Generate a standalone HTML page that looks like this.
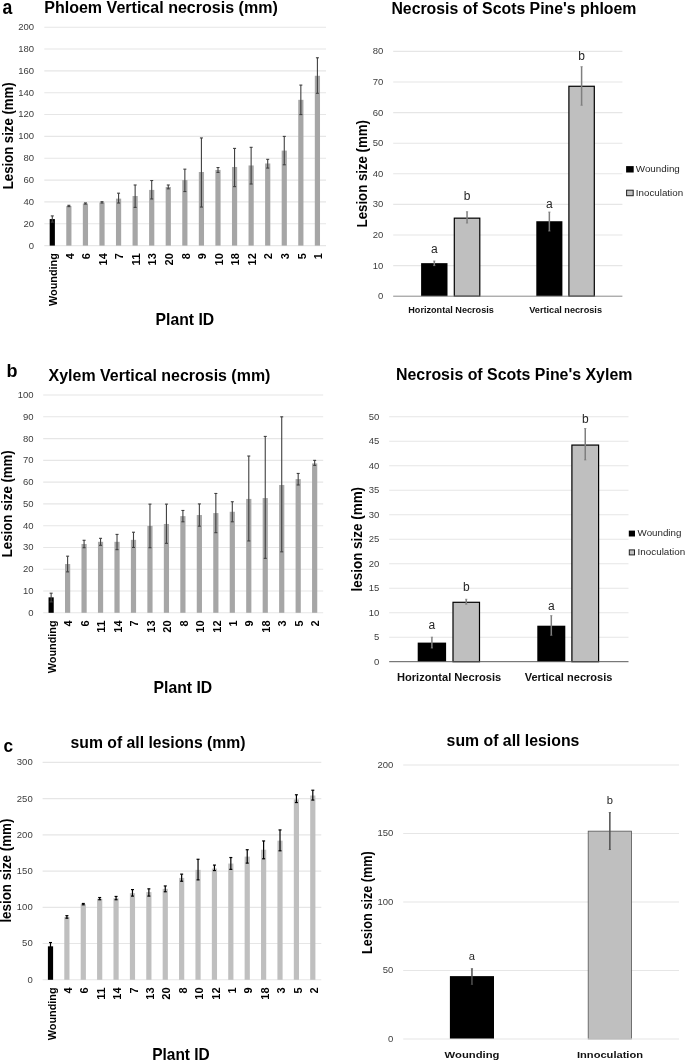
<!DOCTYPE html>
<html lang="en">
<head>
<meta charset="utf-8">
<title>Necrosis charts</title>
<style>html,body{margin:0;padding:0;background:#fff;}svg{display:block;}text{font-family:"Liberation Sans",sans-serif;}</style>
</head>
<body>
<svg width="685" height="1061" viewBox="0 0 685 1061" font-family='"Liberation Sans", sans-serif'>
<rect width="685" height="1061" fill="#fff"/>
<g>
<line x1="44.30" x2="326.00" y1="245.60" y2="245.60" stroke="#e6e6e6" stroke-width="1.1"/>
<text x="34.00" y="248.50" font-size="9.5" text-anchor="end" fill="#3c3c3c">0</text>
<line x1="44.30" x2="326.00" y1="223.76" y2="223.76" stroke="#e6e6e6" stroke-width="1.1"/>
<text x="34.00" y="226.66" font-size="9.5" text-anchor="end" fill="#3c3c3c">20</text>
<line x1="44.30" x2="326.00" y1="201.92" y2="201.92" stroke="#e6e6e6" stroke-width="1.1"/>
<text x="34.00" y="204.82" font-size="9.5" text-anchor="end" fill="#3c3c3c">40</text>
<line x1="44.30" x2="326.00" y1="180.08" y2="180.08" stroke="#e6e6e6" stroke-width="1.1"/>
<text x="34.00" y="182.98" font-size="9.5" text-anchor="end" fill="#3c3c3c">60</text>
<line x1="44.30" x2="326.00" y1="158.24" y2="158.24" stroke="#e6e6e6" stroke-width="1.1"/>
<text x="34.00" y="161.14" font-size="9.5" text-anchor="end" fill="#3c3c3c">80</text>
<line x1="44.30" x2="326.00" y1="136.40" y2="136.40" stroke="#e6e6e6" stroke-width="1.1"/>
<text x="34.00" y="139.30" font-size="9.5" text-anchor="end" fill="#3c3c3c">100</text>
<line x1="44.30" x2="326.00" y1="114.56" y2="114.56" stroke="#e6e6e6" stroke-width="1.1"/>
<text x="34.00" y="117.46" font-size="9.5" text-anchor="end" fill="#3c3c3c">120</text>
<line x1="44.30" x2="326.00" y1="92.72" y2="92.72" stroke="#e6e6e6" stroke-width="1.1"/>
<text x="34.00" y="95.62" font-size="9.5" text-anchor="end" fill="#3c3c3c">140</text>
<line x1="44.30" x2="326.00" y1="70.88" y2="70.88" stroke="#e6e6e6" stroke-width="1.1"/>
<text x="34.00" y="73.78" font-size="9.5" text-anchor="end" fill="#3c3c3c">160</text>
<line x1="44.30" x2="326.00" y1="49.04" y2="49.04" stroke="#e6e6e6" stroke-width="1.1"/>
<text x="34.00" y="51.94" font-size="9.5" text-anchor="end" fill="#3c3c3c">180</text>
<line x1="44.30" x2="326.00" y1="27.20" y2="27.20" stroke="#e6e6e6" stroke-width="1.1"/>
<text x="34.00" y="30.10" font-size="9.5" text-anchor="end" fill="#3c3c3c">200</text>
<rect x="49.69" y="219.06" width="5.20" height="26.54" fill="#000"/>
<line x1="52.29" x2="52.29" y1="215.90" y2="222.12" stroke="#404040" stroke-width="1.1"/>
<line x1="50.79" x2="53.79" y1="215.90" y2="215.90" stroke="#404040" stroke-width="1.1"/>
<line x1="50.79" x2="53.79" y1="222.12" y2="222.12" stroke="#404040" stroke-width="1.1"/>
<text x="56.99" y="253.20" font-size="11.3" font-weight="bold" text-anchor="end" textLength="52.80" lengthAdjust="spacingAndGlyphs" transform="rotate(-90 56.99 253.20)">Wounding</text>
<rect x="66.26" y="206.07" width="5.20" height="39.53" fill="#a6a6a6"/>
<line x1="68.86" x2="68.86" y1="205.31" y2="206.62" stroke="#404040" stroke-width="1.1"/>
<line x1="67.36" x2="70.36" y1="205.31" y2="205.31" stroke="#404040" stroke-width="1.1"/>
<line x1="67.36" x2="70.36" y1="206.62" y2="206.62" stroke="#404040" stroke-width="1.1"/>
<text x="73.56" y="253.20" font-size="11.3" font-weight="bold" text-anchor="end" textLength="6.10" lengthAdjust="spacingAndGlyphs" transform="rotate(-90 73.56 253.20)">4</text>
<rect x="82.83" y="203.56" width="5.20" height="42.04" fill="#a6a6a6"/>
<line x1="85.43" x2="85.43" y1="202.90" y2="204.10" stroke="#404040" stroke-width="1.1"/>
<line x1="83.93" x2="86.93" y1="202.90" y2="202.90" stroke="#404040" stroke-width="1.1"/>
<line x1="83.93" x2="86.93" y1="204.10" y2="204.10" stroke="#404040" stroke-width="1.1"/>
<text x="90.13" y="253.20" font-size="11.3" font-weight="bold" text-anchor="end" textLength="6.10" lengthAdjust="spacingAndGlyphs" transform="rotate(-90 90.13 253.20)">6</text>
<rect x="99.40" y="202.47" width="5.20" height="43.13" fill="#a6a6a6"/>
<line x1="102.00" x2="102.00" y1="201.70" y2="203.01" stroke="#404040" stroke-width="1.1"/>
<line x1="100.50" x2="103.50" y1="201.70" y2="201.70" stroke="#404040" stroke-width="1.1"/>
<line x1="100.50" x2="103.50" y1="203.01" y2="203.01" stroke="#404040" stroke-width="1.1"/>
<text x="106.70" y="253.20" font-size="11.3" font-weight="bold" text-anchor="end" textLength="12.30" lengthAdjust="spacingAndGlyphs" transform="rotate(-90 106.70 253.20)">14</text>
<rect x="115.97" y="198.64" width="5.20" height="46.96" fill="#a6a6a6"/>
<line x1="118.57" x2="118.57" y1="193.18" y2="203.01" stroke="#404040" stroke-width="1.1"/>
<line x1="117.07" x2="120.07" y1="193.18" y2="193.18" stroke="#404040" stroke-width="1.1"/>
<line x1="117.07" x2="120.07" y1="203.01" y2="203.01" stroke="#404040" stroke-width="1.1"/>
<text x="123.27" y="253.20" font-size="11.3" font-weight="bold" text-anchor="end" textLength="6.10" lengthAdjust="spacingAndGlyphs" transform="rotate(-90 123.27 253.20)">7</text>
<rect x="132.54" y="196.02" width="5.20" height="49.58" fill="#a6a6a6"/>
<line x1="135.14" x2="135.14" y1="184.99" y2="207.38" stroke="#404040" stroke-width="1.1"/>
<line x1="133.64" x2="136.64" y1="184.99" y2="184.99" stroke="#404040" stroke-width="1.1"/>
<line x1="133.64" x2="136.64" y1="207.38" y2="207.38" stroke="#404040" stroke-width="1.1"/>
<text x="139.84" y="253.20" font-size="11.3" font-weight="bold" text-anchor="end" textLength="12.30" lengthAdjust="spacingAndGlyphs" transform="rotate(-90 139.84 253.20)">11</text>
<rect x="149.11" y="189.91" width="5.20" height="55.69" fill="#a6a6a6"/>
<line x1="151.71" x2="151.71" y1="180.52" y2="198.97" stroke="#404040" stroke-width="1.1"/>
<line x1="150.21" x2="153.21" y1="180.52" y2="180.52" stroke="#404040" stroke-width="1.1"/>
<line x1="150.21" x2="153.21" y1="198.97" y2="198.97" stroke="#404040" stroke-width="1.1"/>
<text x="156.41" y="253.20" font-size="11.3" font-weight="bold" text-anchor="end" textLength="12.30" lengthAdjust="spacingAndGlyphs" transform="rotate(-90 156.41 253.20)">13</text>
<rect x="165.68" y="186.96" width="5.20" height="58.64" fill="#a6a6a6"/>
<line x1="168.28" x2="168.28" y1="184.99" y2="188.82" stroke="#404040" stroke-width="1.1"/>
<line x1="166.78" x2="169.78" y1="184.99" y2="184.99" stroke="#404040" stroke-width="1.1"/>
<line x1="166.78" x2="169.78" y1="188.82" y2="188.82" stroke="#404040" stroke-width="1.1"/>
<text x="172.98" y="253.20" font-size="11.3" font-weight="bold" text-anchor="end" textLength="12.30" lengthAdjust="spacingAndGlyphs" transform="rotate(-90 172.98 253.20)">20</text>
<rect x="182.25" y="180.08" width="5.20" height="65.52" fill="#a6a6a6"/>
<line x1="184.85" x2="184.85" y1="169.16" y2="191.55" stroke="#404040" stroke-width="1.1"/>
<line x1="183.35" x2="186.35" y1="169.16" y2="169.16" stroke="#404040" stroke-width="1.1"/>
<line x1="183.35" x2="186.35" y1="191.55" y2="191.55" stroke="#404040" stroke-width="1.1"/>
<text x="189.55" y="253.20" font-size="11.3" font-weight="bold" text-anchor="end" textLength="6.10" lengthAdjust="spacingAndGlyphs" transform="rotate(-90 189.55 253.20)">8</text>
<rect x="198.82" y="172.00" width="5.20" height="73.60" fill="#a6a6a6"/>
<line x1="201.42" x2="201.42" y1="137.93" y2="207.05" stroke="#404040" stroke-width="1.1"/>
<line x1="199.92" x2="202.92" y1="137.93" y2="137.93" stroke="#404040" stroke-width="1.1"/>
<line x1="199.92" x2="202.92" y1="207.05" y2="207.05" stroke="#404040" stroke-width="1.1"/>
<text x="206.12" y="253.20" font-size="11.3" font-weight="bold" text-anchor="end" textLength="6.10" lengthAdjust="spacingAndGlyphs" transform="rotate(-90 206.12 253.20)">9</text>
<rect x="215.39" y="169.92" width="5.20" height="75.68" fill="#a6a6a6"/>
<line x1="217.99" x2="217.99" y1="167.52" y2="172.44" stroke="#404040" stroke-width="1.1"/>
<line x1="216.49" x2="219.49" y1="167.52" y2="167.52" stroke="#404040" stroke-width="1.1"/>
<line x1="216.49" x2="219.49" y1="172.44" y2="172.44" stroke="#404040" stroke-width="1.1"/>
<text x="222.69" y="253.20" font-size="11.3" font-weight="bold" text-anchor="end" textLength="12.30" lengthAdjust="spacingAndGlyphs" transform="rotate(-90 222.69 253.20)">10</text>
<rect x="231.96" y="166.98" width="5.20" height="78.62" fill="#a6a6a6"/>
<line x1="234.56" x2="234.56" y1="148.41" y2="186.63" stroke="#404040" stroke-width="1.1"/>
<line x1="233.06" x2="236.06" y1="148.41" y2="148.41" stroke="#404040" stroke-width="1.1"/>
<line x1="233.06" x2="236.06" y1="186.63" y2="186.63" stroke="#404040" stroke-width="1.1"/>
<text x="239.26" y="253.20" font-size="11.3" font-weight="bold" text-anchor="end" textLength="12.30" lengthAdjust="spacingAndGlyphs" transform="rotate(-90 239.26 253.20)">18</text>
<rect x="248.53" y="165.45" width="5.20" height="80.15" fill="#a6a6a6"/>
<line x1="251.13" x2="251.13" y1="147.32" y2="184.01" stroke="#404040" stroke-width="1.1"/>
<line x1="249.63" x2="252.63" y1="147.32" y2="147.32" stroke="#404040" stroke-width="1.1"/>
<line x1="249.63" x2="252.63" y1="184.01" y2="184.01" stroke="#404040" stroke-width="1.1"/>
<text x="255.83" y="253.20" font-size="11.3" font-weight="bold" text-anchor="end" textLength="12.30" lengthAdjust="spacingAndGlyphs" transform="rotate(-90 255.83 253.20)">12</text>
<rect x="265.10" y="163.48" width="5.20" height="82.12" fill="#a6a6a6"/>
<line x1="267.70" x2="267.70" y1="159.33" y2="168.07" stroke="#404040" stroke-width="1.1"/>
<line x1="266.20" x2="269.20" y1="159.33" y2="159.33" stroke="#404040" stroke-width="1.1"/>
<line x1="266.20" x2="269.20" y1="168.07" y2="168.07" stroke="#404040" stroke-width="1.1"/>
<text x="272.40" y="253.20" font-size="11.3" font-weight="bold" text-anchor="end" textLength="6.10" lengthAdjust="spacingAndGlyphs" transform="rotate(-90 272.40 253.20)">2</text>
<rect x="281.67" y="150.60" width="5.20" height="95.00" fill="#a6a6a6"/>
<line x1="284.27" x2="284.27" y1="136.40" y2="164.79" stroke="#404040" stroke-width="1.1"/>
<line x1="282.77" x2="285.77" y1="136.40" y2="136.40" stroke="#404040" stroke-width="1.1"/>
<line x1="282.77" x2="285.77" y1="164.79" y2="164.79" stroke="#404040" stroke-width="1.1"/>
<text x="288.97" y="253.20" font-size="11.3" font-weight="bold" text-anchor="end" textLength="6.10" lengthAdjust="spacingAndGlyphs" transform="rotate(-90 288.97 253.20)">3</text>
<rect x="298.24" y="99.82" width="5.20" height="145.78" fill="#a6a6a6"/>
<line x1="300.84" x2="300.84" y1="85.08" y2="114.56" stroke="#404040" stroke-width="1.1"/>
<line x1="299.34" x2="302.34" y1="85.08" y2="85.08" stroke="#404040" stroke-width="1.1"/>
<line x1="299.34" x2="302.34" y1="114.56" y2="114.56" stroke="#404040" stroke-width="1.1"/>
<text x="305.54" y="253.20" font-size="11.3" font-weight="bold" text-anchor="end" textLength="6.10" lengthAdjust="spacingAndGlyphs" transform="rotate(-90 305.54 253.20)">5</text>
<rect x="314.81" y="75.79" width="5.20" height="169.81" fill="#a6a6a6"/>
<line x1="317.41" x2="317.41" y1="57.78" y2="93.27" stroke="#404040" stroke-width="1.1"/>
<line x1="315.91" x2="318.91" y1="57.78" y2="57.78" stroke="#404040" stroke-width="1.1"/>
<line x1="315.91" x2="318.91" y1="93.27" y2="93.27" stroke="#404040" stroke-width="1.1"/>
<text x="322.11" y="253.20" font-size="11.3" font-weight="bold" text-anchor="end" textLength="6.10" lengthAdjust="spacingAndGlyphs" transform="rotate(-90 322.11 253.20)">1</text>
<text x="44.20" y="12.90" font-size="15.6" font-weight="bold" textLength="233.60" lengthAdjust="spacingAndGlyphs">Phloem Vertical necrosis (mm)</text>
<text x="155.60" y="324.60" font-size="16.2" font-weight="bold" textLength="58.60" lengthAdjust="spacingAndGlyphs">Plant ID</text>
<text x="12.90" y="189.20" font-size="14.6" font-weight="bold" textLength="106.80" lengthAdjust="spacingAndGlyphs" transform="rotate(-90 12.90 189.20)">Lesion size (mm)</text>
<text x="2.40" y="13.60" font-size="21" font-weight="bold" textLength="9.80" lengthAdjust="spacingAndGlyphs">a</text>
</g>
<g>
<line x1="43.20" x2="323.20" y1="612.80" y2="612.80" stroke="#e6e6e6" stroke-width="1.1"/>
<text x="33.50" y="615.70" font-size="9.5" text-anchor="end" fill="#3c3c3c">0</text>
<line x1="43.20" x2="323.20" y1="591.02" y2="591.02" stroke="#e6e6e6" stroke-width="1.1"/>
<text x="33.50" y="593.92" font-size="9.5" text-anchor="end" fill="#3c3c3c">10</text>
<line x1="43.20" x2="323.20" y1="569.25" y2="569.25" stroke="#e6e6e6" stroke-width="1.1"/>
<text x="33.50" y="572.15" font-size="9.5" text-anchor="end" fill="#3c3c3c">20</text>
<line x1="43.20" x2="323.20" y1="547.47" y2="547.47" stroke="#e6e6e6" stroke-width="1.1"/>
<text x="33.50" y="550.37" font-size="9.5" text-anchor="end" fill="#3c3c3c">30</text>
<line x1="43.20" x2="323.20" y1="525.70" y2="525.70" stroke="#e6e6e6" stroke-width="1.1"/>
<text x="33.50" y="528.60" font-size="9.5" text-anchor="end" fill="#3c3c3c">40</text>
<line x1="43.20" x2="323.20" y1="503.92" y2="503.92" stroke="#e6e6e6" stroke-width="1.1"/>
<text x="33.50" y="506.82" font-size="9.5" text-anchor="end" fill="#3c3c3c">50</text>
<line x1="43.20" x2="323.20" y1="482.15" y2="482.15" stroke="#e6e6e6" stroke-width="1.1"/>
<text x="33.50" y="485.05" font-size="9.5" text-anchor="end" fill="#3c3c3c">60</text>
<line x1="43.20" x2="323.20" y1="460.37" y2="460.37" stroke="#e6e6e6" stroke-width="1.1"/>
<text x="33.50" y="463.27" font-size="9.5" text-anchor="end" fill="#3c3c3c">70</text>
<line x1="43.20" x2="323.20" y1="438.60" y2="438.60" stroke="#e6e6e6" stroke-width="1.1"/>
<text x="33.50" y="441.50" font-size="9.5" text-anchor="end" fill="#3c3c3c">80</text>
<line x1="43.20" x2="323.20" y1="416.82" y2="416.82" stroke="#e6e6e6" stroke-width="1.1"/>
<text x="33.50" y="419.72" font-size="9.5" text-anchor="end" fill="#3c3c3c">90</text>
<line x1="43.20" x2="323.20" y1="395.05" y2="395.05" stroke="#e6e6e6" stroke-width="1.1"/>
<text x="33.50" y="397.95" font-size="9.5" text-anchor="end" fill="#3c3c3c">100</text>
<rect x="48.54" y="597.34" width="5.20" height="15.46" fill="#000"/>
<line x1="51.14" x2="51.14" y1="593.20" y2="601.91" stroke="#404040" stroke-width="1.1"/>
<line x1="49.64" x2="52.64" y1="593.20" y2="593.20" stroke="#404040" stroke-width="1.1"/>
<line x1="49.64" x2="52.64" y1="601.91" y2="601.91" stroke="#404040" stroke-width="1.1"/>
<text x="55.84" y="620.40" font-size="11.3" font-weight="bold" text-anchor="end" textLength="52.80" lengthAdjust="spacingAndGlyphs" transform="rotate(-90 55.84 620.40)">Wounding</text>
<rect x="65.01" y="564.02" width="5.20" height="48.78" fill="#a6a6a6"/>
<line x1="67.61" x2="67.61" y1="556.18" y2="571.86" stroke="#404040" stroke-width="1.1"/>
<line x1="66.11" x2="69.11" y1="556.18" y2="556.18" stroke="#404040" stroke-width="1.1"/>
<line x1="66.11" x2="69.11" y1="571.86" y2="571.86" stroke="#404040" stroke-width="1.1"/>
<text x="72.31" y="620.40" font-size="11.3" font-weight="bold" text-anchor="end" textLength="6.10" lengthAdjust="spacingAndGlyphs" transform="rotate(-90 72.31 620.40)">4</text>
<rect x="81.48" y="543.99" width="5.20" height="68.81" fill="#a6a6a6"/>
<line x1="84.08" x2="84.08" y1="540.29" y2="547.69" stroke="#404040" stroke-width="1.1"/>
<line x1="82.58" x2="85.58" y1="540.29" y2="540.29" stroke="#404040" stroke-width="1.1"/>
<line x1="82.58" x2="85.58" y1="547.69" y2="547.69" stroke="#404040" stroke-width="1.1"/>
<text x="88.78" y="620.40" font-size="11.3" font-weight="bold" text-anchor="end" textLength="6.10" lengthAdjust="spacingAndGlyphs" transform="rotate(-90 88.78 620.40)">6</text>
<rect x="97.95" y="541.81" width="5.20" height="70.99" fill="#a6a6a6"/>
<line x1="100.55" x2="100.55" y1="538.33" y2="545.30" stroke="#404040" stroke-width="1.1"/>
<line x1="99.05" x2="102.05" y1="538.33" y2="538.33" stroke="#404040" stroke-width="1.1"/>
<line x1="99.05" x2="102.05" y1="545.30" y2="545.30" stroke="#404040" stroke-width="1.1"/>
<text x="105.25" y="620.40" font-size="11.3" font-weight="bold" text-anchor="end" textLength="12.30" lengthAdjust="spacingAndGlyphs" transform="rotate(-90 105.25 620.40)">11</text>
<rect x="114.42" y="541.81" width="5.20" height="70.99" fill="#a6a6a6"/>
<line x1="117.02" x2="117.02" y1="534.41" y2="549.65" stroke="#404040" stroke-width="1.1"/>
<line x1="115.52" x2="118.52" y1="534.41" y2="534.41" stroke="#404040" stroke-width="1.1"/>
<line x1="115.52" x2="118.52" y1="549.65" y2="549.65" stroke="#404040" stroke-width="1.1"/>
<text x="121.72" y="620.40" font-size="11.3" font-weight="bold" text-anchor="end" textLength="12.30" lengthAdjust="spacingAndGlyphs" transform="rotate(-90 121.72 620.40)">14</text>
<rect x="130.89" y="539.85" width="5.20" height="72.95" fill="#a6a6a6"/>
<line x1="133.49" x2="133.49" y1="532.23" y2="547.47" stroke="#404040" stroke-width="1.1"/>
<line x1="131.99" x2="134.99" y1="532.23" y2="532.23" stroke="#404040" stroke-width="1.1"/>
<line x1="131.99" x2="134.99" y1="547.47" y2="547.47" stroke="#404040" stroke-width="1.1"/>
<text x="138.19" y="620.40" font-size="11.3" font-weight="bold" text-anchor="end" textLength="6.10" lengthAdjust="spacingAndGlyphs" transform="rotate(-90 138.19 620.40)">7</text>
<rect x="147.36" y="525.92" width="5.20" height="86.88" fill="#a6a6a6"/>
<line x1="149.96" x2="149.96" y1="504.14" y2="547.69" stroke="#404040" stroke-width="1.1"/>
<line x1="148.46" x2="151.46" y1="504.14" y2="504.14" stroke="#404040" stroke-width="1.1"/>
<line x1="148.46" x2="151.46" y1="547.69" y2="547.69" stroke="#404040" stroke-width="1.1"/>
<text x="154.66" y="620.40" font-size="11.3" font-weight="bold" text-anchor="end" textLength="12.30" lengthAdjust="spacingAndGlyphs" transform="rotate(-90 154.66 620.40)">13</text>
<rect x="163.83" y="523.96" width="5.20" height="88.84" fill="#a6a6a6"/>
<line x1="166.43" x2="166.43" y1="504.14" y2="543.34" stroke="#404040" stroke-width="1.1"/>
<line x1="164.93" x2="167.93" y1="504.14" y2="504.14" stroke="#404040" stroke-width="1.1"/>
<line x1="164.93" x2="167.93" y1="543.34" y2="543.34" stroke="#404040" stroke-width="1.1"/>
<text x="171.13" y="620.40" font-size="11.3" font-weight="bold" text-anchor="end" textLength="12.30" lengthAdjust="spacingAndGlyphs" transform="rotate(-90 171.13 620.40)">20</text>
<rect x="180.30" y="516.12" width="5.20" height="96.68" fill="#a6a6a6"/>
<line x1="182.90" x2="182.90" y1="510.46" y2="521.78" stroke="#404040" stroke-width="1.1"/>
<line x1="181.40" x2="184.40" y1="510.46" y2="510.46" stroke="#404040" stroke-width="1.1"/>
<line x1="181.40" x2="184.40" y1="521.78" y2="521.78" stroke="#404040" stroke-width="1.1"/>
<text x="187.60" y="620.40" font-size="11.3" font-weight="bold" text-anchor="end" textLength="6.10" lengthAdjust="spacingAndGlyphs" transform="rotate(-90 187.60 620.40)">8</text>
<rect x="196.77" y="515.03" width="5.20" height="97.77" fill="#a6a6a6"/>
<line x1="199.37" x2="199.37" y1="503.92" y2="526.14" stroke="#404040" stroke-width="1.1"/>
<line x1="197.87" x2="200.87" y1="503.92" y2="503.92" stroke="#404040" stroke-width="1.1"/>
<line x1="197.87" x2="200.87" y1="526.14" y2="526.14" stroke="#404040" stroke-width="1.1"/>
<text x="204.07" y="620.40" font-size="11.3" font-weight="bold" text-anchor="end" textLength="12.30" lengthAdjust="spacingAndGlyphs" transform="rotate(-90 204.07 620.40)">10</text>
<rect x="213.24" y="513.07" width="5.20" height="99.73" fill="#a6a6a6"/>
<line x1="215.84" x2="215.84" y1="493.47" y2="532.67" stroke="#404040" stroke-width="1.1"/>
<line x1="214.34" x2="217.34" y1="493.47" y2="493.47" stroke="#404040" stroke-width="1.1"/>
<line x1="214.34" x2="217.34" y1="532.67" y2="532.67" stroke="#404040" stroke-width="1.1"/>
<text x="220.54" y="620.40" font-size="11.3" font-weight="bold" text-anchor="end" textLength="12.30" lengthAdjust="spacingAndGlyphs" transform="rotate(-90 220.54 620.40)">12</text>
<rect x="229.71" y="511.76" width="5.20" height="101.04" fill="#a6a6a6"/>
<line x1="232.31" x2="232.31" y1="501.75" y2="521.78" stroke="#404040" stroke-width="1.1"/>
<line x1="230.81" x2="233.81" y1="501.75" y2="501.75" stroke="#404040" stroke-width="1.1"/>
<line x1="230.81" x2="233.81" y1="521.78" y2="521.78" stroke="#404040" stroke-width="1.1"/>
<text x="237.01" y="620.40" font-size="11.3" font-weight="bold" text-anchor="end" textLength="6.10" lengthAdjust="spacingAndGlyphs" transform="rotate(-90 237.01 620.40)">1</text>
<rect x="246.18" y="498.92" width="5.20" height="113.88" fill="#a6a6a6"/>
<line x1="248.78" x2="248.78" y1="456.02" y2="540.94" stroke="#404040" stroke-width="1.1"/>
<line x1="247.28" x2="250.28" y1="456.02" y2="456.02" stroke="#404040" stroke-width="1.1"/>
<line x1="247.28" x2="250.28" y1="540.94" y2="540.94" stroke="#404040" stroke-width="1.1"/>
<text x="253.48" y="620.40" font-size="11.3" font-weight="bold" text-anchor="end" textLength="6.10" lengthAdjust="spacingAndGlyphs" transform="rotate(-90 253.48 620.40)">9</text>
<rect x="262.65" y="498.05" width="5.20" height="114.75" fill="#a6a6a6"/>
<line x1="265.25" x2="265.25" y1="436.42" y2="558.36" stroke="#404040" stroke-width="1.1"/>
<line x1="263.75" x2="266.75" y1="436.42" y2="436.42" stroke="#404040" stroke-width="1.1"/>
<line x1="263.75" x2="266.75" y1="558.36" y2="558.36" stroke="#404040" stroke-width="1.1"/>
<text x="269.95" y="620.40" font-size="11.3" font-weight="bold" text-anchor="end" textLength="12.30" lengthAdjust="spacingAndGlyphs" transform="rotate(-90 269.95 620.40)">18</text>
<rect x="279.12" y="484.98" width="5.20" height="127.82" fill="#a6a6a6"/>
<line x1="281.72" x2="281.72" y1="416.82" y2="551.83" stroke="#404040" stroke-width="1.1"/>
<line x1="280.22" x2="283.22" y1="416.82" y2="416.82" stroke="#404040" stroke-width="1.1"/>
<line x1="280.22" x2="283.22" y1="551.83" y2="551.83" stroke="#404040" stroke-width="1.1"/>
<text x="286.42" y="620.40" font-size="11.3" font-weight="bold" text-anchor="end" textLength="6.10" lengthAdjust="spacingAndGlyphs" transform="rotate(-90 286.42 620.40)">3</text>
<rect x="295.59" y="479.10" width="5.20" height="133.70" fill="#a6a6a6"/>
<line x1="298.19" x2="298.19" y1="473.44" y2="484.98" stroke="#404040" stroke-width="1.1"/>
<line x1="296.69" x2="299.69" y1="473.44" y2="473.44" stroke="#404040" stroke-width="1.1"/>
<line x1="296.69" x2="299.69" y1="484.98" y2="484.98" stroke="#404040" stroke-width="1.1"/>
<text x="302.89" y="620.40" font-size="11.3" font-weight="bold" text-anchor="end" textLength="6.10" lengthAdjust="spacingAndGlyphs" transform="rotate(-90 302.89 620.40)">5</text>
<rect x="312.06" y="463.42" width="5.20" height="149.38" fill="#a6a6a6"/>
<line x1="314.66" x2="314.66" y1="460.37" y2="465.38" stroke="#404040" stroke-width="1.1"/>
<line x1="313.16" x2="316.16" y1="460.37" y2="460.37" stroke="#404040" stroke-width="1.1"/>
<line x1="313.16" x2="316.16" y1="465.38" y2="465.38" stroke="#404040" stroke-width="1.1"/>
<text x="319.36" y="620.40" font-size="11.3" font-weight="bold" text-anchor="end" textLength="6.10" lengthAdjust="spacingAndGlyphs" transform="rotate(-90 319.36 620.40)">2</text>
<text x="48.60" y="380.80" font-size="15.6" font-weight="bold" textLength="221.80" lengthAdjust="spacingAndGlyphs">Xylem Vertical necrosis (mm)</text>
<text x="153.60" y="693.00" font-size="16.2" font-weight="bold" textLength="58.60" lengthAdjust="spacingAndGlyphs">Plant ID</text>
<text x="12.30" y="557.20" font-size="14.6" font-weight="bold" textLength="106.90" lengthAdjust="spacingAndGlyphs" transform="rotate(-90 12.30 557.20)">Lesion size (mm)</text>
<text x="6.60" y="376.50" font-size="18" font-weight="bold" textLength="11.00" lengthAdjust="spacingAndGlyphs">b</text>
</g>
<g>
<line x1="42.60" x2="321.30" y1="979.80" y2="979.80" stroke="#e6e6e6" stroke-width="1.1"/>
<text x="32.70" y="982.70" font-size="9.5" text-anchor="end" fill="#3c3c3c">0</text>
<line x1="42.60" x2="321.30" y1="943.56" y2="943.56" stroke="#e6e6e6" stroke-width="1.1"/>
<text x="32.70" y="946.46" font-size="9.5" text-anchor="end" fill="#3c3c3c">50</text>
<line x1="42.60" x2="321.30" y1="907.33" y2="907.33" stroke="#e6e6e6" stroke-width="1.1"/>
<text x="32.70" y="910.23" font-size="9.5" text-anchor="end" fill="#3c3c3c">100</text>
<line x1="42.60" x2="321.30" y1="871.09" y2="871.09" stroke="#e6e6e6" stroke-width="1.1"/>
<text x="32.70" y="873.99" font-size="9.5" text-anchor="end" fill="#3c3c3c">150</text>
<line x1="42.60" x2="321.30" y1="834.86" y2="834.86" stroke="#e6e6e6" stroke-width="1.1"/>
<text x="32.70" y="837.76" font-size="9.5" text-anchor="end" fill="#3c3c3c">200</text>
<line x1="42.60" x2="321.30" y1="798.62" y2="798.62" stroke="#e6e6e6" stroke-width="1.1"/>
<text x="32.70" y="801.52" font-size="9.5" text-anchor="end" fill="#3c3c3c">250</text>
<line x1="42.60" x2="321.30" y1="762.39" y2="762.39" stroke="#e6e6e6" stroke-width="1.1"/>
<text x="32.70" y="765.29" font-size="9.5" text-anchor="end" fill="#3c3c3c">300</text>
<rect x="47.90" y="946.32" width="5.20" height="33.48" fill="#000"/>
<line x1="50.50" x2="50.50" y1="942.55" y2="950.09" stroke="#000" stroke-width="1.2"/>
<line x1="49.00" x2="52.00" y1="942.55" y2="942.55" stroke="#000" stroke-width="1.2"/>
<line x1="49.00" x2="52.00" y1="950.09" y2="950.09" stroke="#000" stroke-width="1.2"/>
<text x="55.60" y="987.40" font-size="11.3" font-weight="bold" text-anchor="end" textLength="52.80" lengthAdjust="spacingAndGlyphs" transform="rotate(-90 55.60 987.40)">Wounding</text>
<rect x="64.29" y="917.11" width="5.20" height="62.69" fill="#bfbfbf"/>
<line x1="66.89" x2="66.89" y1="915.66" y2="918.20" stroke="#000" stroke-width="1.2"/>
<line x1="65.39" x2="68.39" y1="915.66" y2="915.66" stroke="#000" stroke-width="1.2"/>
<line x1="65.39" x2="68.39" y1="918.20" y2="918.20" stroke="#000" stroke-width="1.2"/>
<text x="71.99" y="987.40" font-size="11.3" font-weight="bold" text-anchor="end" textLength="6.10" lengthAdjust="spacingAndGlyphs" transform="rotate(-90 71.99 987.40)">4</text>
<rect x="80.69" y="904.29" width="5.20" height="75.51" fill="#bfbfbf"/>
<line x1="83.29" x2="83.29" y1="903.49" y2="904.79" stroke="#000" stroke-width="1.2"/>
<line x1="81.79" x2="84.79" y1="903.49" y2="903.49" stroke="#000" stroke-width="1.2"/>
<line x1="81.79" x2="84.79" y1="904.79" y2="904.79" stroke="#000" stroke-width="1.2"/>
<text x="88.39" y="987.40" font-size="11.3" font-weight="bold" text-anchor="end" textLength="6.10" lengthAdjust="spacingAndGlyphs" transform="rotate(-90 88.39 987.40)">6</text>
<rect x="97.08" y="898.78" width="5.20" height="81.02" fill="#bfbfbf"/>
<line x1="99.68" x2="99.68" y1="897.55" y2="899.72" stroke="#000" stroke-width="1.2"/>
<line x1="98.18" x2="101.18" y1="897.55" y2="897.55" stroke="#000" stroke-width="1.2"/>
<line x1="98.18" x2="101.18" y1="899.72" y2="899.72" stroke="#000" stroke-width="1.2"/>
<text x="104.78" y="987.40" font-size="11.3" font-weight="bold" text-anchor="end" textLength="12.30" lengthAdjust="spacingAndGlyphs" transform="rotate(-90 104.78 987.40)">11</text>
<rect x="113.47" y="898.27" width="5.20" height="81.53" fill="#bfbfbf"/>
<line x1="116.07" x2="116.07" y1="896.46" y2="899.72" stroke="#000" stroke-width="1.2"/>
<line x1="114.57" x2="117.57" y1="896.46" y2="896.46" stroke="#000" stroke-width="1.2"/>
<line x1="114.57" x2="117.57" y1="899.72" y2="899.72" stroke="#000" stroke-width="1.2"/>
<text x="121.17" y="987.40" font-size="11.3" font-weight="bold" text-anchor="end" textLength="12.30" lengthAdjust="spacingAndGlyphs" transform="rotate(-90 121.17 987.40)">14</text>
<rect x="129.87" y="893.20" width="5.20" height="86.60" fill="#bfbfbf"/>
<line x1="132.47" x2="132.47" y1="889.57" y2="896.10" stroke="#000" stroke-width="1.2"/>
<line x1="130.97" x2="133.97" y1="889.57" y2="889.57" stroke="#000" stroke-width="1.2"/>
<line x1="130.97" x2="133.97" y1="896.10" y2="896.10" stroke="#000" stroke-width="1.2"/>
<text x="137.57" y="987.40" font-size="11.3" font-weight="bold" text-anchor="end" textLength="6.10" lengthAdjust="spacingAndGlyphs" transform="rotate(-90 137.57 987.40)">7</text>
<rect x="146.26" y="892.11" width="5.20" height="87.69" fill="#bfbfbf"/>
<line x1="148.86" x2="148.86" y1="888.85" y2="896.10" stroke="#000" stroke-width="1.2"/>
<line x1="147.36" x2="150.36" y1="888.85" y2="888.85" stroke="#000" stroke-width="1.2"/>
<line x1="147.36" x2="150.36" y1="896.10" y2="896.10" stroke="#000" stroke-width="1.2"/>
<text x="153.96" y="987.40" font-size="11.3" font-weight="bold" text-anchor="end" textLength="12.30" lengthAdjust="spacingAndGlyphs" transform="rotate(-90 153.96 987.40)">13</text>
<rect x="162.66" y="888.85" width="5.20" height="90.95" fill="#bfbfbf"/>
<line x1="165.26" x2="165.26" y1="885.95" y2="891.75" stroke="#000" stroke-width="1.2"/>
<line x1="163.76" x2="166.76" y1="885.95" y2="885.95" stroke="#000" stroke-width="1.2"/>
<line x1="163.76" x2="166.76" y1="891.75" y2="891.75" stroke="#000" stroke-width="1.2"/>
<text x="170.36" y="987.40" font-size="11.3" font-weight="bold" text-anchor="end" textLength="12.30" lengthAdjust="spacingAndGlyphs" transform="rotate(-90 170.36 987.40)">20</text>
<rect x="179.05" y="877.91" width="5.20" height="101.89" fill="#bfbfbf"/>
<line x1="181.65" x2="181.65" y1="874.14" y2="881.24" stroke="#000" stroke-width="1.2"/>
<line x1="180.15" x2="183.15" y1="874.14" y2="874.14" stroke="#000" stroke-width="1.2"/>
<line x1="180.15" x2="183.15" y1="881.24" y2="881.24" stroke="#000" stroke-width="1.2"/>
<text x="186.75" y="987.40" font-size="11.3" font-weight="bold" text-anchor="end" textLength="6.10" lengthAdjust="spacingAndGlyphs" transform="rotate(-90 186.75 987.40)">8</text>
<rect x="195.44" y="869.86" width="5.20" height="109.94" fill="#bfbfbf"/>
<line x1="198.04" x2="198.04" y1="859.28" y2="879.86" stroke="#000" stroke-width="1.2"/>
<line x1="196.54" x2="199.54" y1="859.28" y2="859.28" stroke="#000" stroke-width="1.2"/>
<line x1="196.54" x2="199.54" y1="879.86" y2="879.86" stroke="#000" stroke-width="1.2"/>
<text x="203.14" y="987.40" font-size="11.3" font-weight="bold" text-anchor="end" textLength="12.30" lengthAdjust="spacingAndGlyphs" transform="rotate(-90 203.14 987.40)">10</text>
<rect x="211.84" y="868.56" width="5.20" height="111.24" fill="#bfbfbf"/>
<line x1="214.44" x2="214.44" y1="865.08" y2="870.59" stroke="#000" stroke-width="1.2"/>
<line x1="212.94" x2="215.94" y1="865.08" y2="865.08" stroke="#000" stroke-width="1.2"/>
<line x1="212.94" x2="215.94" y1="870.59" y2="870.59" stroke="#000" stroke-width="1.2"/>
<text x="219.54" y="987.40" font-size="11.3" font-weight="bold" text-anchor="end" textLength="12.30" lengthAdjust="spacingAndGlyphs" transform="rotate(-90 219.54 987.40)">12</text>
<rect x="228.23" y="863.56" width="5.20" height="116.24" fill="#bfbfbf"/>
<line x1="230.83" x2="230.83" y1="857.54" y2="869.36" stroke="#000" stroke-width="1.2"/>
<line x1="229.33" x2="232.33" y1="857.54" y2="857.54" stroke="#000" stroke-width="1.2"/>
<line x1="229.33" x2="232.33" y1="869.36" y2="869.36" stroke="#000" stroke-width="1.2"/>
<text x="235.93" y="987.40" font-size="11.3" font-weight="bold" text-anchor="end" textLength="6.10" lengthAdjust="spacingAndGlyphs" transform="rotate(-90 235.93 987.40)">1</text>
<rect x="244.63" y="856.60" width="5.20" height="123.20" fill="#bfbfbf"/>
<line x1="247.23" x2="247.23" y1="849.72" y2="863.12" stroke="#000" stroke-width="1.2"/>
<line x1="245.73" x2="248.73" y1="849.72" y2="849.72" stroke="#000" stroke-width="1.2"/>
<line x1="245.73" x2="248.73" y1="863.12" y2="863.12" stroke="#000" stroke-width="1.2"/>
<text x="252.33" y="987.40" font-size="11.3" font-weight="bold" text-anchor="end" textLength="6.10" lengthAdjust="spacingAndGlyphs" transform="rotate(-90 252.33 987.40)">9</text>
<rect x="261.02" y="849.72" width="5.20" height="130.08" fill="#bfbfbf"/>
<line x1="263.62" x2="263.62" y1="840.95" y2="858.78" stroke="#000" stroke-width="1.2"/>
<line x1="262.12" x2="265.12" y1="840.95" y2="840.95" stroke="#000" stroke-width="1.2"/>
<line x1="262.12" x2="265.12" y1="858.78" y2="858.78" stroke="#000" stroke-width="1.2"/>
<text x="268.72" y="987.40" font-size="11.3" font-weight="bold" text-anchor="end" textLength="12.30" lengthAdjust="spacingAndGlyphs" transform="rotate(-90 268.72 987.40)">18</text>
<rect x="277.41" y="840.66" width="5.20" height="139.14" fill="#bfbfbf"/>
<line x1="280.01" x2="280.01" y1="829.93" y2="850.80" stroke="#000" stroke-width="1.2"/>
<line x1="278.51" x2="281.51" y1="829.93" y2="829.93" stroke="#000" stroke-width="1.2"/>
<line x1="278.51" x2="281.51" y1="850.80" y2="850.80" stroke="#000" stroke-width="1.2"/>
<text x="285.11" y="987.40" font-size="11.3" font-weight="bold" text-anchor="end" textLength="6.10" lengthAdjust="spacingAndGlyphs" transform="rotate(-90 285.11 987.40)">3</text>
<rect x="293.81" y="799.35" width="5.20" height="180.45" fill="#bfbfbf"/>
<line x1="296.41" x2="296.41" y1="794.78" y2="802.54" stroke="#000" stroke-width="1.2"/>
<line x1="294.91" x2="297.91" y1="794.78" y2="794.78" stroke="#000" stroke-width="1.2"/>
<line x1="294.91" x2="297.91" y1="802.54" y2="802.54" stroke="#000" stroke-width="1.2"/>
<text x="301.51" y="987.40" font-size="11.3" font-weight="bold" text-anchor="end" textLength="6.10" lengthAdjust="spacingAndGlyphs" transform="rotate(-90 301.51 987.40)">5</text>
<rect x="310.20" y="795.51" width="5.20" height="184.29" fill="#bfbfbf"/>
<line x1="312.80" x2="312.80" y1="790.22" y2="800.07" stroke="#000" stroke-width="1.2"/>
<line x1="311.30" x2="314.30" y1="790.22" y2="790.22" stroke="#000" stroke-width="1.2"/>
<line x1="311.30" x2="314.30" y1="800.07" y2="800.07" stroke="#000" stroke-width="1.2"/>
<text x="317.90" y="987.40" font-size="11.3" font-weight="bold" text-anchor="end" textLength="6.10" lengthAdjust="spacingAndGlyphs" transform="rotate(-90 317.90 987.40)">2</text>
<text x="70.60" y="747.60" font-size="15.6" font-weight="bold" textLength="175.00" lengthAdjust="spacingAndGlyphs">sum of all lesions (mm)</text>
<text x="152.20" y="1060.20" font-size="16.2" font-weight="bold" textLength="57.60" lengthAdjust="spacingAndGlyphs">Plant ID</text>
<text x="11.40" y="922.60" font-size="14.4" font-weight="bold" textLength="104.00" lengthAdjust="spacingAndGlyphs" transform="rotate(-90 11.40 922.60)">lesion size (mm)</text>
<text x="3.40" y="752.20" font-size="18" font-weight="bold" textLength="9.60" lengthAdjust="spacingAndGlyphs">c</text>
</g>
<g>
<line x1="393.20" x2="622.40" y1="265.60" y2="265.60" stroke="#e6e6e6" stroke-width="1.1"/>
<line x1="393.20" x2="622.40" y1="235.00" y2="235.00" stroke="#e6e6e6" stroke-width="1.1"/>
<line x1="393.20" x2="622.40" y1="204.40" y2="204.40" stroke="#e6e6e6" stroke-width="1.1"/>
<line x1="393.20" x2="622.40" y1="173.80" y2="173.80" stroke="#e6e6e6" stroke-width="1.1"/>
<line x1="393.20" x2="622.40" y1="143.20" y2="143.20" stroke="#e6e6e6" stroke-width="1.1"/>
<line x1="393.20" x2="622.40" y1="112.60" y2="112.60" stroke="#e6e6e6" stroke-width="1.1"/>
<line x1="393.20" x2="622.40" y1="82.00" y2="82.00" stroke="#e6e6e6" stroke-width="1.1"/>
<line x1="393.20" x2="622.40" y1="51.40" y2="51.40" stroke="#e6e6e6" stroke-width="1.1"/>
<text x="383.30" y="299.10" font-size="9.5" text-anchor="end" fill="#3c3c3c">0</text>
<text x="383.30" y="268.50" font-size="9.5" text-anchor="end" fill="#3c3c3c">10</text>
<text x="383.30" y="237.90" font-size="9.5" text-anchor="end" fill="#3c3c3c">20</text>
<text x="383.30" y="207.30" font-size="9.5" text-anchor="end" fill="#3c3c3c">30</text>
<text x="383.30" y="176.70" font-size="9.5" text-anchor="end" fill="#3c3c3c">40</text>
<text x="383.30" y="146.10" font-size="9.5" text-anchor="end" fill="#3c3c3c">50</text>
<text x="383.30" y="115.50" font-size="9.5" text-anchor="end" fill="#3c3c3c">60</text>
<text x="383.30" y="84.90" font-size="9.5" text-anchor="end" fill="#3c3c3c">70</text>
<text x="383.30" y="54.30" font-size="9.5" text-anchor="end" fill="#3c3c3c">80</text>
<rect x="421.10" y="263.15" width="26.40" height="33.05" fill="#000"/>
<line x1="434.30" x2="434.30" y1="261.01" y2="265.60" stroke="#7f7f7f" stroke-width="1.5"/>
<line x1="433.20" x2="435.40" y1="261.01" y2="261.01" stroke="#7f7f7f" stroke-width="0.8"/>
<line x1="433.20" x2="435.40" y1="265.60" y2="265.60" stroke="#7f7f7f" stroke-width="0.8"/>
<text x="434.30" y="252.60" font-size="12" text-anchor="middle" fill="#262626">a</text>
<rect x="454.30" y="218.16" width="25.50" height="78.04" fill="#bfbfbf" stroke="#000" stroke-width="1.2"/>
<line x1="467.05" x2="467.05" y1="211.74" y2="223.07" stroke="#7f7f7f" stroke-width="1.5"/>
<line x1="465.95" x2="468.15" y1="211.74" y2="211.74" stroke="#7f7f7f" stroke-width="0.8"/>
<line x1="465.95" x2="468.15" y1="223.07" y2="223.07" stroke="#7f7f7f" stroke-width="0.8"/>
<text x="467.05" y="199.70" font-size="12" text-anchor="middle" fill="#262626">b</text>
<rect x="536.30" y="221.23" width="26.10" height="74.97" fill="#000"/>
<line x1="549.35" x2="549.35" y1="212.05" y2="231.02" stroke="#7f7f7f" stroke-width="1.5"/>
<line x1="548.25" x2="550.45" y1="212.05" y2="212.05" stroke="#7f7f7f" stroke-width="0.8"/>
<line x1="548.25" x2="550.45" y1="231.02" y2="231.02" stroke="#7f7f7f" stroke-width="0.8"/>
<text x="549.35" y="208.20" font-size="12" text-anchor="middle" fill="#262626">a</text>
<rect x="568.90" y="86.27" width="25.40" height="209.93" fill="#bfbfbf" stroke="#000" stroke-width="1.2"/>
<line x1="581.60" x2="581.60" y1="66.70" y2="105.26" stroke="#7f7f7f" stroke-width="1.5"/>
<line x1="580.50" x2="582.70" y1="66.70" y2="66.70" stroke="#7f7f7f" stroke-width="0.8"/>
<line x1="580.50" x2="582.70" y1="105.26" y2="105.26" stroke="#7f7f7f" stroke-width="0.8"/>
<text x="581.60" y="59.70" font-size="12" text-anchor="middle" fill="#262626">b</text>
<line x1="393.20" x2="622.40" y1="296.20" y2="296.20" stroke="#8a8a8a" stroke-width="1.0"/>
<text x="408.30" y="312.60" font-size="8.8" font-weight="bold" fill="#111" textLength="85.50" lengthAdjust="spacingAndGlyphs">Horizontal Necrosis</text>
<text x="529.20" y="312.60" font-size="8.8" font-weight="bold" fill="#111" textLength="72.80" lengthAdjust="spacingAndGlyphs">Vertical necrosis</text>
<text x="391.40" y="14.00" font-size="15.6" font-weight="bold" textLength="245.00" lengthAdjust="spacingAndGlyphs">Necrosis of Scots Pine's phloem</text>
<text x="367.30" y="227.40" font-size="14.6" font-weight="bold" textLength="107.30" lengthAdjust="spacingAndGlyphs" transform="rotate(-90 367.30 227.40)">Lesion size (mm)</text>
<rect x="626.10" y="166.10" width="7.60" height="6.40" fill="#000"/>
<text x="635.80" y="172.30" font-size="8.5" fill="#262626" textLength="44.00" lengthAdjust="spacingAndGlyphs">Wounding</text>
<rect x="626.60" y="190.20" width="6.60" height="5.50" fill="#bfbfbf" stroke="#222" stroke-width="1.0"/>
<text x="635.80" y="195.80" font-size="8.5" fill="#262626" textLength="47.30" lengthAdjust="spacingAndGlyphs">Inoculation</text>
</g>
<g>
<line x1="389.20" x2="628.50" y1="637.21" y2="637.21" stroke="#e6e6e6" stroke-width="1.1"/>
<line x1="389.20" x2="628.50" y1="612.72" y2="612.72" stroke="#e6e6e6" stroke-width="1.1"/>
<line x1="389.20" x2="628.50" y1="588.23" y2="588.23" stroke="#e6e6e6" stroke-width="1.1"/>
<line x1="389.20" x2="628.50" y1="563.74" y2="563.74" stroke="#e6e6e6" stroke-width="1.1"/>
<line x1="389.20" x2="628.50" y1="539.25" y2="539.25" stroke="#e6e6e6" stroke-width="1.1"/>
<line x1="389.20" x2="628.50" y1="514.76" y2="514.76" stroke="#e6e6e6" stroke-width="1.1"/>
<line x1="389.20" x2="628.50" y1="490.27" y2="490.27" stroke="#e6e6e6" stroke-width="1.1"/>
<line x1="389.20" x2="628.50" y1="465.78" y2="465.78" stroke="#e6e6e6" stroke-width="1.1"/>
<line x1="389.20" x2="628.50" y1="441.29" y2="441.29" stroke="#e6e6e6" stroke-width="1.1"/>
<line x1="389.20" x2="628.50" y1="416.80" y2="416.80" stroke="#e6e6e6" stroke-width="1.1"/>
<text x="379.40" y="664.60" font-size="9.5" text-anchor="end" fill="#3c3c3c">0</text>
<text x="379.40" y="640.11" font-size="9.5" text-anchor="end" fill="#3c3c3c">5</text>
<text x="379.40" y="615.62" font-size="9.5" text-anchor="end" fill="#3c3c3c">10</text>
<text x="379.40" y="591.13" font-size="9.5" text-anchor="end" fill="#3c3c3c">15</text>
<text x="379.40" y="566.64" font-size="9.5" text-anchor="end" fill="#3c3c3c">20</text>
<text x="379.40" y="542.15" font-size="9.5" text-anchor="end" fill="#3c3c3c">25</text>
<text x="379.40" y="517.66" font-size="9.5" text-anchor="end" fill="#3c3c3c">30</text>
<text x="379.40" y="493.17" font-size="9.5" text-anchor="end" fill="#3c3c3c">35</text>
<text x="379.40" y="468.68" font-size="9.5" text-anchor="end" fill="#3c3c3c">40</text>
<text x="379.40" y="444.19" font-size="9.5" text-anchor="end" fill="#3c3c3c">45</text>
<text x="379.40" y="419.70" font-size="9.5" text-anchor="end" fill="#3c3c3c">50</text>
<rect x="417.70" y="642.60" width="28.40" height="19.10" fill="#000"/>
<line x1="431.90" x2="431.90" y1="637.21" y2="647.99" stroke="#7f7f7f" stroke-width="1.5"/>
<line x1="430.80" x2="433.00" y1="637.21" y2="637.21" stroke="#7f7f7f" stroke-width="0.8"/>
<line x1="430.80" x2="433.00" y1="647.99" y2="647.99" stroke="#7f7f7f" stroke-width="0.8"/>
<text x="431.90" y="629.20" font-size="12" text-anchor="middle" fill="#262626">a</text>
<rect x="453.00" y="602.30" width="26.50" height="59.40" fill="#bfbfbf" stroke="#000" stroke-width="1.2"/>
<line x1="466.25" x2="466.25" y1="599.25" y2="604.15" stroke="#7f7f7f" stroke-width="1.5"/>
<line x1="465.15" x2="467.35" y1="599.25" y2="599.25" stroke="#7f7f7f" stroke-width="0.8"/>
<line x1="465.15" x2="467.35" y1="604.15" y2="604.15" stroke="#7f7f7f" stroke-width="0.8"/>
<text x="466.25" y="591.00" font-size="12" text-anchor="middle" fill="#262626">b</text>
<rect x="537.30" y="625.70" width="28.00" height="36.00" fill="#000"/>
<line x1="551.30" x2="551.30" y1="615.66" y2="635.25" stroke="#7f7f7f" stroke-width="1.5"/>
<line x1="550.20" x2="552.40" y1="615.66" y2="615.66" stroke="#7f7f7f" stroke-width="0.8"/>
<line x1="550.20" x2="552.40" y1="635.25" y2="635.25" stroke="#7f7f7f" stroke-width="0.8"/>
<text x="551.30" y="610.00" font-size="12" text-anchor="middle" fill="#262626">a</text>
<rect x="571.90" y="445.07" width="26.70" height="216.63" fill="#bfbfbf" stroke="#000" stroke-width="1.2"/>
<line x1="585.25" x2="585.25" y1="428.56" y2="459.90" stroke="#7f7f7f" stroke-width="1.5"/>
<line x1="584.15" x2="586.35" y1="428.56" y2="428.56" stroke="#7f7f7f" stroke-width="0.8"/>
<line x1="584.15" x2="586.35" y1="459.90" y2="459.90" stroke="#7f7f7f" stroke-width="0.8"/>
<text x="585.25" y="423.10" font-size="12" text-anchor="middle" fill="#262626">b</text>
<line x1="389.20" x2="628.50" y1="661.70" y2="661.70" stroke="#595959" stroke-width="1.0"/>
<text x="397.00" y="681.20" font-size="11.0" font-weight="bold" fill="#111" textLength="104.20" lengthAdjust="spacingAndGlyphs">Horizontal Necrosis</text>
<text x="524.70" y="681.20" font-size="11.0" font-weight="bold" fill="#111" textLength="87.70" lengthAdjust="spacingAndGlyphs">Vertical necrosis</text>
<text x="396.00" y="379.90" font-size="15.6" font-weight="bold" textLength="236.40" lengthAdjust="spacingAndGlyphs">Necrosis of Scots Pine's Xylem</text>
<text x="362.40" y="591.50" font-size="14.4" font-weight="bold" textLength="104.60" lengthAdjust="spacingAndGlyphs" transform="rotate(-90 362.40 591.50)">lesion size (mm)</text>
<rect x="628.80" y="530.60" width="6.20" height="5.90" fill="#000"/>
<text x="637.60" y="536.40" font-size="8.5" fill="#262626" textLength="43.80" lengthAdjust="spacingAndGlyphs">Wounding</text>
<rect x="629.30" y="549.90" width="5.20" height="5.00" fill="#bfbfbf" stroke="#222" stroke-width="1.0"/>
<text x="637.60" y="555.30" font-size="8.5" fill="#262626" textLength="47.60" lengthAdjust="spacingAndGlyphs">Inoculation</text>
</g>
<g>
<line x1="403.20" x2="679.00" y1="970.50" y2="970.50" stroke="#e6e6e6" stroke-width="1.1"/>
<line x1="403.20" x2="679.00" y1="902.00" y2="902.00" stroke="#e6e6e6" stroke-width="1.1"/>
<line x1="403.20" x2="679.00" y1="833.50" y2="833.50" stroke="#e6e6e6" stroke-width="1.1"/>
<line x1="403.20" x2="679.00" y1="765.00" y2="765.00" stroke="#e6e6e6" stroke-width="1.1"/>
<text x="393.40" y="1041.90" font-size="9.5" text-anchor="end" fill="#3c3c3c">0</text>
<text x="393.40" y="973.40" font-size="9.5" text-anchor="end" fill="#3c3c3c">50</text>
<text x="393.40" y="904.90" font-size="9.5" text-anchor="end" fill="#3c3c3c">100</text>
<text x="393.40" y="836.40" font-size="9.5" text-anchor="end" fill="#3c3c3c">150</text>
<text x="393.40" y="767.90" font-size="9.5" text-anchor="end" fill="#3c3c3c">200</text>
<rect x="449.90" y="976.12" width="44.10" height="62.88" fill="#000"/>
<line x1="471.95" x2="471.95" y1="968.72" y2="984.34" stroke="#505050" stroke-width="1.5"/>
<line x1="470.85" x2="473.05" y1="968.72" y2="968.72" stroke="#505050" stroke-width="0.8"/>
<line x1="470.85" x2="473.05" y1="984.34" y2="984.34" stroke="#505050" stroke-width="0.8"/>
<text x="471.95" y="960.10" font-size="11.2" text-anchor="middle" fill="#262626">a</text>
<rect x="588.20" y="831.16" width="43.30" height="207.84" fill="#bfbfbf" stroke="#555" stroke-width="0.8"/>
<line x1="609.85" x2="609.85" y1="812.54" y2="849.53" stroke="#505050" stroke-width="1.5"/>
<line x1="608.75" x2="610.95" y1="812.54" y2="812.54" stroke="#505050" stroke-width="0.8"/>
<line x1="608.75" x2="610.95" y1="849.53" y2="849.53" stroke="#505050" stroke-width="0.8"/>
<text x="609.85" y="804.30" font-size="11.2" text-anchor="middle" fill="#262626">b</text>
<line x1="403.20" x2="679.00" y1="1039.00" y2="1039.00" stroke="#e6e6e6" stroke-width="1.1"/>
<text x="444.60" y="1058.10" font-size="9.5" font-weight="bold" fill="#111" textLength="54.80" lengthAdjust="spacingAndGlyphs">Wounding</text>
<text x="577.00" y="1058.10" font-size="9.5" font-weight="bold" fill="#111" textLength="66.00" lengthAdjust="spacingAndGlyphs">Innoculation</text>
<text x="446.60" y="745.90" font-size="15.6" font-weight="bold" textLength="132.80" lengthAdjust="spacingAndGlyphs">sum of all lesions</text>
<text x="372.20" y="954.00" font-size="14.2" font-weight="bold" textLength="102.80" lengthAdjust="spacingAndGlyphs" transform="rotate(-90 372.20 954.00)">Lesion size (mm)</text>
</g>
</svg>
</body>
</html>
